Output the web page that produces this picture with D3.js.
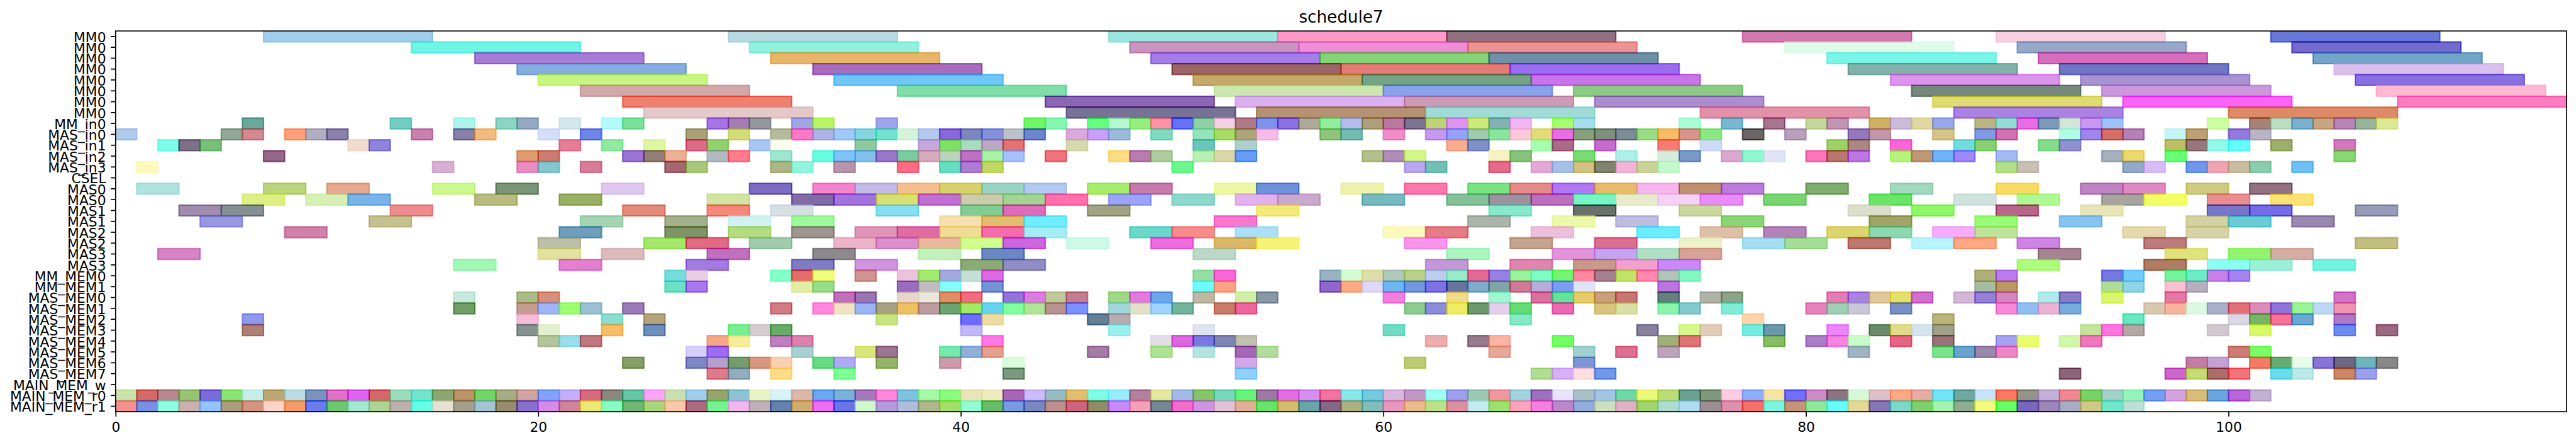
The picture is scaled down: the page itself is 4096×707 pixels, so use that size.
<!DOCTYPE html>
<html><head><meta charset="utf-8">
<script src="https://cdn.jsdelivr.net/npm/d3@7"></script>
<style>html,body{margin:0;padding:0;background:#fff}svg{display:block}</style>
</head><body><svg id="c"></svg>
<script>
const title = "schedule7";
const rowLabels = ["MM0","MM0","MM0","MM0","MM0","MM0","MM0","MM0","MM_in0","MAS_in0","MAS_in1","MAS_in2","MAS_in3","CSEL","MAS0","MAS0","MAS1","MAS1","MAS2","MAS2","MAS3","MAS3","MM_MEM0","MM_MEM1","MAS_MEM0","MAS_MEM1","MAS_MEM2","MAS_MEM3","MAS_MEM4","MAS_MEM5","MAS_MEM6","MAS_MEM7","MAIN_MEM_w","MAIN_MEM_r0","MAIN_MEM_r1"];
const rowDurations = [8,8,8,8,8,8,8,8,1,1,1,1,1,1,2,2,2,2,2,2,2,2,1,1,1,1,1,1,1,1,1,1,1,1,1];
const xTicks = [0,20,40,60,80,100];
const xMax = 116;
// each bar: [start time, colour as it appears on white]
const mmBars = [
[[7,"#9FCFEB"],[29,"#B8D9DF"],[47,"#9CE6E0"],[55,"#FF99C8"],[63,"#917080"],[77,"#D57AB0"],[89,"#F6CFE0"],[102,"#6878D8"]],
[[14,"#72F5E5"],[30,"#92F0DF"],[48,"#C995BF"],[56,"#EE8FD6"],[64,"#EC9494"],[79,"#E0FBEA"],[90,"#97A8C8"],[103,"#746BCB"]],
[[17,"#A67CD6"],[31,"#E9B56A"],[49,"#A57DE8"],[57,"#85D377"],[65,"#7090A8"],[81,"#7AF5E8"],[91,"#D46EBD"],[104,"#72A5C8"]],
[[19,"#85ADE0"],[33,"#A76CBD"],[50,"#9C6068"],[58,"#E37A76"],[66,"#9B6EF0"],[82,"#84B2AA"],[92,"#7176C3"],[105,"#DBC0EE"]],
[[20,"#C9F583"],[34,"#70C7F7"],[51,"#C4A96C"],[59,"#74A484"],[67,"#C975E8"],[84,"#DD94EC"],[93,"#A893D2"],[106,"#8872E2"]],
[[22,"#D3A8A8"],[37,"#80DEA8"],[52,"#CDE7B0"],[60,"#88A2EB"],[69,"#8CCB86"],[85,"#758A7C"],[94,"#CB98DC"],[107,"#FFB9D2"]],
[[24,"#EE8070"],[44,"#8B65B3"],[53,"#DBB0EF"],[61,"#CC9BB5"],[70,"#AC8DCD"],[86,"#DEDB74"],[95,"#FB64F9"],[108,"#FD7EC0"]],
[[25,"#E4C8CA"],[45,"#787396"],[54,"#B59272"],[62,"#9FDCD8"],[75,"#E391A8"],[87,"#AB82E3"],[100,"#DE8A66"]]
];
const inBars = [
[[6,"#6AA89B"],[13,"#75CCC4"],[16,"#AEF5EC"],[18,"#8CD4C4"],[19,"#94A9C2"],[21,"#D3E6EC"],[23,"#B5FBFC"],[24,"#7CE19A"],[28,"#A475E3"],[29,"#A47DB5"],[30,"#94989E"],[32,"#9EA6E3"],[33,"#B9F560"],[36,"#A1A6EB"],[43,"#72F568"],[44,"#85F5B0"],[46,"#66FF80"],[47,"#B5F8CF"],[48,"#96EE80"],[49,"#FF92A5"],[50,"#6572FC"],[51,"#8FD0A5"],[52,"#F3D0E6"],[53,"#B07A88"],[54,"#7F93E8"],[55,"#8C70E0"],[56,"#AEA99A"],[57,"#90EE9E"],[58,"#B4BCEE"],[59,"#AF9E7C"],[60,"#B67A9C"],[61,"#7E7390"],[62,"#BED278"],[63,"#DF94EE"],[64,"#CEEA7C"],[65,"#84B2B4"],[66,"#F3B5F3"],[68,"#A5FF70"],[69,"#A8DEEE"],[74,"#A8FFD6"],[76,"#7AB8CF"],[78,"#A6768F"],[80,"#C4D79C"],[81,"#C194B4"],[83,"#D0B066"],[84,"#CCBCD8"],[85,"#E0D8A4"],[86,"#98A8E8"],[88,"#BCB684"],[89,"#95DCD4"],[90,"#E66EE0"],[91,"#7E9AB8"],[92,"#D3E6D8"],[93,"#CA98F0"],[94,"#9DC4F8"],[99,"#CBFFA0"],[101,"#A88274"],[102,"#BCDCC4"],[103,"#7AB0CC"],[104,"#C8A684"],[105,"#B686B6"],[106,"#98B49A"],[107,"#DDE894"]],
[[0,"#AFCAEA"],[5,"#90A898"],[6,"#D48890"],[8,"#FFA07A"],[9,"#B0AEC0"],[10,"#8A80AC"],[14,"#C980AE"],[16,"#8880AB"],[17,"#F3BB7E"],[20,"#D2DFF7"],[22,"#6F85EA"],[27,"#AAA27A"],[29,"#D3DD78"],[31,"#B2BB9C"],[32,"#FF78C8"],[33,"#AEB5E6"],[34,"#A0C8F8"],[35,"#84D6E0"],[36,"#72E3CC"],[37,"#D4F3D8"],[38,"#B4C8F0"],[39,"#8868DC"],[40,"#7C86C0"],[41,"#8590DC"],[42,"#BCC2CA"],[43,"#6C85CC"],[45,"#DBA9DC"],[46,"#C8A0FC"],[47,"#9CBBDC"],[49,"#80DCC0"],[51,"#96E4BC"],[52,"#A8DA66"],[53,"#AAA678"],[54,"#F5BCE8"],[57,"#90C47C"],[58,"#74BCB0"],[60,"#F08CC8"],[62,"#C498F0"],[63,"#94A2FC"],[64,"#9FC8AC"],[65,"#8CE59C"],[66,"#FBC9D9"],[67,"#E2DC78"],[68,"#E86EE8"],[69,"#88A07C"],[70,"#7F8F7C"],[71,"#7C8C98"],[72,"#98DC84"],[73,"#F6BC66"],[74,"#D9948C"],[75,"#8CE884"],[77,"#6A6666"],[79,"#B9A0BC"],[82,"#9578BC"],[83,"#C498A8"],[86,"#D6C48A"],[88,"#7F9AE2"],[89,"#D272B2"],[92,"#AFFDE4"],[93,"#A086E8"],[94,"#D46E66"],[95,"#B580B8"],[97,"#C4F6FA"],[98,"#BDA074"],[100,"#9478DC"],[101,"#B8B4C4"]],
[[2,"#7EFDEA"],[3,"#7E7086"],[4,"#7ABE7C"],[11,"#F0DCCF"],[12,"#8F84DC"],[21,"#E67E98"],[23,"#90EAA0"],[25,"#DEF7A4"],[27,"#DC6C88"],[28,"#92D070"],[30,"#A8C6F4"],[31,"#FAFDEF"],[35,"#90C8A0"],[38,"#C6A8DC"],[39,"#80E064"],[40,"#A8DCBC"],[41,"#BCA8C4"],[42,"#DF7376"],[45,"#D6D8AE"],[51,"#6AC6BC"],[53,"#B0CFCA"],[63,"#F7AC90"],[64,"#8090C6"],[67,"#A6FDB0"],[68,"#A96A8C"],[70,"#C46CCA"],[73,"#F77C76"],[75,"#CDDAF4"],[81,"#9DD268"],[82,"#A98880"],[84,"#F95FD8"],[87,"#72DCDC"],[88,"#88D070"],[91,"#84DC8C"],[92,"#9090D0"],[97,"#BEBE66"],[98,"#967880"],[99,"#92F8E8"],[100,"#66FCFF"],[102,"#9EAE6C"],[105,"#D278BC"]],
[[7,"#95688A"],[19,"#E09C70"],[20,"#CC7C70"],[24,"#9C74D4"],[25,"#928078"],[26,"#EEB094"],[28,"#B0BAC0"],[29,"#FF7C8C"],[31,"#9DE6D0"],[33,"#68FCDF"],[34,"#7EC4F8"],[35,"#84C0EC"],[36,"#9C78C8"],[37,"#78CCA0"],[38,"#D4ACBC"],[39,"#BCD4BC"],[40,"#C070C4"],[41,"#AAF2A8"],[42,"#A8C0FC"],[44,"#F0747C"],[47,"#FEDC84"],[48,"#B87CB0"],[49,"#AECC9E"],[51,"#B8F0B4"],[52,"#D9D6A8"],[53,"#689CF8"],[59,"#B4C08C"],[60,"#B08EB8"],[61,"#D4F888"],[65,"#F5F3C4"],[66,"#86C47C"],[69,"#78DC72"],[71,"#ACF0E8"],[73,"#D8ECDC"],[74,"#7A98C8"],[76,"#DCA8D0"],[77,"#90F8D0"],[78,"#E0E6F6"],[80,"#F877BA"],[81,"#B87870"],[82,"#BC78E2"],[84,"#B4F47C"],[85,"#C09878"],[86,"#72B4FC"],[87,"#9E88FC"],[89,"#A4BCF4"],[94,"#A6B0BC"],[95,"#ECD86C"],[97,"#68FF76"],[105,"#88D674"]],
[[1,"#FFFABC"],[15,"#D8B0D4"],[19,"#EA8CC4"],[20,"#86C6CE"],[22,"#D67E98"],[26,"#A66870"],[27,"#A8C87C"],[31,"#AEB686"],[32,"#92F4DC"],[34,"#B696AC"],[37,"#FF6C84"],[39,"#68DEC0"],[40,"#AE7CD4"],[41,"#C0D864"],[50,"#6CF88E"],[61,"#B8A6F0"],[62,"#74C0B4"],[65,"#E66A8C"],[67,"#E4A8D4"],[68,"#A8C0E8"],[69,"#D2C282"],[70,"#80846E"],[71,"#F3B4D8"],[72,"#C8D498"],[73,"#C4F8CC"],[89,"#B2E088"],[90,"#C8C0B4"],[95,"#94A8C8"],[96,"#D8BCF6"],[98,"#7098EC"],[99,"#F0A4B0"],[100,"#CABC9E"],[101,"#8CCCB0"],[103,"#70C0F4"]]
];
const cselBars = [[]];
const masBars = [
[[1,"#B0E3E0"],[7,"#BAD57C"],[10,"#E6AA90"],[15,"#CDF890"],[18,"#7A9578"],[23,"#DFC8EE"],[30,"#7C6CC4"],[33,"#F484CC"],[35,"#C4BAE6"],[37,"#F5C090"],[39,"#D8D26C"],[41,"#9CD4C4"],[43,"#B4CAF0"],[46,"#A8EE6C"],[48,"#C87CAC"],[52,"#ECF8A4"],[54,"#7090DA"],[58,"#EEF2AC"],[61,"#FF78AC"],[64,"#78E484"],[66,"#E48C8C"],[68,"#B078F4"],[70,"#E6BC6C"],[72,"#F4B6EC"],[74,"#BE9070"],[76,"#BC7CDC"],[80,"#80AE70"],[84,"#A0D8C0"],[89,"#F9DC68"],[93,"#BF84C2"],[95,"#E08AC2"],[98,"#CFCB84"],[101,"#937282"]],
[[6,"#DDF088"],[9,"#D6F0B8"],[11,"#78B4E8"],[17,"#B8BC80"],[21,"#9AB066"],[28,"#D2E4A4"],[32,"#826CA8"],[34,"#A274DC"],[36,"#D8E074"],[38,"#C070D0"],[40,"#CCCCAC"],[42,"#A4D494"],[44,"#FF70AC"],[47,"#9CA4FA"],[50,"#90D8CC"],[53,"#E2B2EE"],[55,"#CAAACC"],[59,"#78B8C0"],[63,"#84C098"],[65,"#9C92A0"],[67,"#BC70BC"],[69,"#78F5C4"],[71,"#E6ECCC"],[73,"#F4D2F4"],[75,"#E78CF8"],[78,"#7AD474"],[83,"#6CE468"],[87,"#D0E2DE"],[90,"#B0F896"],[94,"#A8A4A0"],[96,"#F2FE68"],[99,"#E88E90"],[102,"#FCE274"]],
[[3,"#A08CAC"],[5,"#869094"],[13,"#EE8C90"],[24,"#E48C7C"],[28,"#F58878"],[31,"#D6E0E4"],[36,"#86DEF0"],[40,"#84CC96"],[42,"#DD6CBC"],[46,"#A0A484"],[54,"#F4EA7C"],[65,"#88E8CC"],[69,"#6A706A"],[74,"#CCD8A0"],[82,"#DCDFCC"],[85,"#90F868"],[89,"#B86688"],[93,"#E8E6B8"],[99,"#7876C8"],[101,"#746CE8"],[106,"#989BB8"]],
[[4,"#9898E0"],[12,"#C4C090"],[22,"#A4D4B4"],[26,"#A4B08C"],[29,"#D2F2F2"],[32,"#A0F89C"],[39,"#F6E0B0"],[41,"#E2BC70"],[43,"#70ECFC"],[52,"#F878CE"],[64,"#ACB4AC"],[68,"#ECF8AC"],[71,"#BFBCE0"],[76,"#8CD478"],[83,"#A0A460"],[88,"#98FC78"],[92,"#88C4F0"],[98,"#D4D2A4"],[100,"#6CCCD4"],[103,"#9888B0"]],
[[8,"#D082A8"],[21,"#6E9EBC"],[26,"#7E9464"],[29,"#B4DC80"],[32,"#9E9490"],[35,"#E094B8"],[37,"#E06CA4"],[39,"#F0DC94"],[41,"#F46CAC"],[43,"#A4EEF4"],[48,"#6CD8CC"],[50,"#F88C8C"],[53,"#ACE0F8"],[60,"#FBF9BC"],[62,"#E67C84"],[67,"#ECC0DC"],[72,"#6CECFF"],[75,"#DEC0A8"],[78,"#B484B8"],[81,"#DCD46C"],[83,"#8CD8B0"],[86,"#F6ACFC"],[88,"#BEE49C"],[95,"#E4D8AC"],[98,"#D8D2A8"]],
[[20,"#BCC0A8"],[25,"#A4E86C"],[27,"#E06C84"],[30,"#A0CCAC"],[34,"#ECB4C8"],[36,"#DA90CC"],[38,"#ECB8A0"],[40,"#D0FE90"],[42,"#CE64E0"],[45,"#CCFAE6"],[49,"#EE6EE0"],[52,"#DCB868"],[54,"#F6F27C"],[61,"#F896EE"],[66,"#C4A48C"],[70,"#DC7090"],[74,"#EEF2CC"],[77,"#A4DEF0"],[79,"#A4DE98"],[82,"#BE7870"],[85,"#B8F4FC"],[87,"#FFA884"],[90,"#CE84E4"],[96,"#BC7C7C"],[106,"#C2BE80"]],
[[2,"#D684C4"],[20,"#E4E0A0"],[23,"#DDBABC"],[28,"#C070BC"],[33,"#8C8A8C"],[38,"#C4F0BC"],[41,"#6C88C4"],[51,"#BCD8C8"],[63,"#ACF4C0"],[68,"#E294DA"],[70,"#C4A4EE"],[72,"#B0E0C4"],[74,"#D8A298"],[91,"#A48490"],[97,"#E0E27E"],[100,"#94F470"],[102,"#D4AEA4"]],
[[16,"#A0F8B4"],[21,"#E480D0"],[27,"#A27CE0"],[32,"#807CC4"],[35,"#D094E0"],[40,"#8CAA74"],[42,"#908CC4"],[62,"#C498D8"],[66,"#E084B0"],[69,"#C89A8C"],[71,"#F2A0D0"],[73,"#CC88F8"],[90,"#AEFC7C"],[96,"#B07C64"],[99,"#8CFFF0"],[101,"#9CF0D8"],[104,"#74F4E0"]]
];
const mmMemBars = [
[[26,"#76DCDC"],[27,"#E8D0E4"],[31,"#86FFC8"],[32,"#E46C6C"],[33,"#F2FC7C"],[35,"#D09490"],[37,"#EBC4DC"],[38,"#A4EA70"],[39,"#A4A8DE"],[40,"#C6E0D8"],[41,"#DC6CE0"],[51,"#96DEA4"],[52,"#F968D8"],[57,"#98B4C4"],[58,"#D4FCD0"],[59,"#E0DEA8"],[60,"#B0C8B8"],[61,"#B8D088"],[62,"#BCCEEC"],[63,"#98ECC8"],[64,"#E26A94"],[65,"#9880E4"],[66,"#98F49C"],[67,"#7EFCC4"],[68,"#74F470"],[69,"#FF88A0"],[70,"#A68090"],[71,"#C0E468"],[72,"#FF88AC"],[73,"#B0C4B8"],[74,"#82F8C0"],[88,"#B0B078"],[89,"#BC7CEC"],[94,"#7478E0"],[95,"#74CCFC"],[97,"#74F49C"],[98,"#6CECC4"],[99,"#C880E8"],[100,"#A884F0"]],
[[26,"#6CE0C4"],[27,"#A878EC"],[32,"#E2EEA4"],[33,"#98DC8C"],[37,"#9C6CBC"],[38,"#C0BCC0"],[39,"#88FCF8"],[41,"#7494D4"],[51,"#6CFCFF"],[52,"#FCA484"],[57,"#9068CC"],[58,"#FCAC84"],[59,"#DED8F8"],[60,"#6CB8F0"],[61,"#7498E0"],[62,"#7C74E4"],[63,"#66759F"],[64,"#80ACCC"],[65,"#80A4A8"],[66,"#D07A98"],[67,"#B8ACD8"],[68,"#7C9CF4"],[69,"#E0E4F4"],[73,"#BC74E0"],[88,"#A8BCA0"],[89,"#BC9868"],[94,"#B0DE98"],[95,"#90D4E8"],[97,"#FBC0D0"],[98,"#B4B0C0"]]
];
const masMemBars = [
[[16,"#C8E8DC"],[19,"#ACBC88"],[20,"#D6907C"],[34,"#C070B8"],[35,"#9C74B0"],[37,"#E6D6CC"],[38,"#EAE8DC"],[39,"#E28E60"],[40,"#F06C80"],[42,"#9474DC"],[43,"#DC7CE0"],[44,"#C0C89C"],[45,"#C47C90"],[47,"#A0D888"],[48,"#E07CDC"],[49,"#70A4E8"],[51,"#BCB8A4"],[53,"#D0F0A8"],[54,"#8898A4"],[60,"#F080DC"],[63,"#F0DC88"],[65,"#A0F8D0"],[67,"#D870A0"],[68,"#68E0A0"],[69,"#E2CC6C"],[70,"#C8A080"],[71,"#C87874"],[73,"#648080"],[75,"#B0B4A8"],[76,"#8CA488"],[81,"#E47CB4"],[82,"#A884E0"],[83,"#DEC89C"],[84,"#E4E070"],[85,"#D070CC"],[87,"#D2B8D4"],[88,"#9480D4"],[89,"#D288BC"],[91,"#B0EAEA"],[92,"#8A7CC4"],[94,"#D8F670"],[97,"#E478A4"],[105,"#D074C8"]],
[[16,"#70A068"],[19,"#C49C90"],[20,"#A0B4F8"],[21,"#9CFF70"],[22,"#9CC0D4"],[24,"#9C7CB8"],[31,"#D07C84"],[33,"#FF88DC"],[34,"#F0E4C4"],[35,"#9CB4F4"],[36,"#A8A284"],[37,"#F0C060"],[38,"#BC9CA0"],[39,"#6CA474"],[40,"#A0EC58"],[41,"#68D4F0"],[42,"#80FF9C"],[43,"#B0E498"],[44,"#B89490"],[45,"#7C90FF"],[47,"#A0D8DC"],[48,"#E2E0C8"],[49,"#A0D4FC"],[50,"#74B49C"],[52,"#C87C68"],[53,"#EE649C"],[61,"#8CCC90"],[62,"#8C8CDC"],[63,"#ECEC58"],[64,"#6C986C"],[65,"#E4D0EC"],[66,"#60DC74"],[68,"#EC68B0"],[70,"#D8C47C"],[71,"#D8E0A4"],[73,"#88F4AC"],[74,"#84C8D0"],[76,"#80ECD8"],[80,"#E684BC"],[81,"#A0D0B4"],[82,"#C8C8D8"],[84,"#7890C4"],[89,"#F688D8"],[90,"#90BEF4"],[91,"#ECB4D4"],[92,"#78ACDC"],[96,"#D8C8B0"],[97,"#F8B4A0"],[98,"#DCF8E0"],[99,"#A8B0CC"],[100,"#E27078"],[101,"#DC8CB8"],[102,"#9074D8"],[103,"#98F494"],[104,"#BCD8F4"],[105,"#EC94B0"]],
[[6,"#8F9AEE"],[19,"#F5BED8"],[23,"#8CDCD0"],[25,"#B4A47C"],[36,"#C8E484"],[40,"#6E6CFC"],[41,"#EEDCA4"],[46,"#668099"],[47,"#B8ACB0"],[66,"#88E8C4"],[77,"#FFD4AC"],[86,"#B8B47C"],[95,"#68E8C0"],[100,"#DAD8E4"],[101,"#78B468"],[102,"#F47498"],[103,"#6CA8D4"],[105,"#B078C8"]],
[[6,"#B08074"],[19,"#849490"],[20,"#E2F0D0"],[23,"#F6BC60"],[25,"#6E8EBC"],[29,"#78F090"],[30,"#D4CCD0"],[31,"#68AC68"],[40,"#C0B8F8"],[47,"#9AF0EC"],[51,"#E0E4F0"],[60,"#70DCC4"],[72,"#88809C"],[74,"#D4F88C"],[75,"#E0CCB8"],[77,"#74ECE0"],[78,"#6C98AC"],[81,"#EC84FC"],[83,"#6C8C6C"],[84,"#E0DC88"],[85,"#D4E4EC"],[86,"#A0A088"],[93,"#C4E49C"],[94,"#FF74E0"],[95,"#B4A8A4"],[99,"#D2C8D0"],[101,"#D8FA68"],[105,"#6C8CEC"],[107,"#9C6880"]],
[[20,"#B4C49C"],[21,"#98DEEC"],[22,"#C0787C"],[28,"#F4A888"],[29,"#F8EC9C"],[31,"#C080C0"],[32,"#DC80AC"],[41,"#FF78E8"],[49,"#E2DEE6"],[50,"#DC68E0"],[51,"#7C78E0"],[52,"#8086B4"],[53,"#C0C0B0"],[62,"#ECAEAC"],[64,"#967C8C"],[65,"#FAB4A4"],[68,"#74FC60"],[73,"#A0B078"],[74,"#E07478"],[78,"#88BC64"],[80,"#AC80C8"],[81,"#F484E0"],[82,"#C8FCC8"],[84,"#E46484"],[86,"#987478"],[89,"#A8A0F0"],[90,"#E8FE70"],[92,"#D0F8A8"],[93,"#F078BC"]],
[[27,"#D8D0FC"],[28,"#9C6CF4"],[32,"#A8D0D0"],[35,"#D8E67C"],[36,"#9C7494"],[39,"#78E8AC"],[40,"#90B0D8"],[41,"#E4A08C"],[46,"#A47CA4"],[49,"#ACE494"],[51,"#B4E4E0"],[53,"#A468B4"],[54,"#B0DC9C"],[65,"#E8A898"],[69,"#A0D0D0"],[71,"#DC7090"],[73,"#BCA4BC"],[82,"#A0B4C4"],[86,"#7CE490"],[87,"#68A4CC"],[88,"#9888AC"],[89,"#EC88C8"],[100,"#CC7C74"],[101,"#7CFC68"]],
[[24,"#84A064"],[27,"#8088C4"],[28,"#B4A0CC"],[29,"#749C6C"],[30,"#D89880"],[31,"#FAD0B0"],[33,"#64DC84"],[34,"#B0A8F8"],[36,"#94B468"],[39,"#CC9CAC"],[42,"#DAFCDC"],[53,"#D4A8E8"],[61,"#BECC74"],[69,"#7C94D8"],[98,"#C47CA4"],[99,"#C4A0D4"],[101,"#F47C5C"],[102,"#64AC70"],[103,"#E8FCE8"],[104,"#8874D8"],[105,"#706880"],[106,"#70B4BC"],[107,"#888888"]],
[[28,"#DC7C8C"],[29,"#94ACBC"],[31,"#FCDC88"],[34,"#80FF94"],[42,"#7C9880"],[53,"#90D0FC"],[67,"#B0DC94"],[68,"#D8B0F4"],[69,"#FEDEDE"],[70,"#7498E8"],[92,"#8C6678"],[97,"#CC64C8"],[98,"#C4DC78"],[99,"#AA6E6C"],[100,"#F07478"],[102,"#6CDCEC"],[103,"#BCE8E8"],[105,"#C88868"],[106,"#9CA0EC"]]
];
const mainWriteBars = [[]];
// main memory read ports run back to back from time 0: colours in time order
const mainR0Colors = ["#C8E4A8","#D46C64","#B88890","#98C474","#7C6CD8","#8CE474","#C4F0E8","#BCA874","#BCDCE4","#7C94BC","#E070C8","#DC64F0","#D4686C","#9CDEBC","#74E4CC","#8CA870","#BC9468","#74D46C","#A8AC84","#D0A4A0","#80A4FC","#C4B0F8","#D46C80","#8C8880","#68C4A8","#FFA4F8","#C8E0B4","#A0D0EC","#98A46C","#8CC4D4","#E8F4C8","#D8F4F8","#DCB8AC","#6CA8EC","#7CB0D8","#A878BC","#FF88DC","#7CC4DC","#A8F8A8","#8CFC80","#ECE4B8","#F0ECC0","#A860B4","#CCBCFC","#98BCC4","#E0C070","#80FCE8","#98ECFC","#B0809C","#E4E8A0","#A0BCE8","#88C46C","#78D8BC","#68F47C","#A078A8","#E070E0","#D890F0","#F474A0","#8CE8E8","#78C8E0","#D8B8DC","#C098C8","#A0FCF4","#9CA0EC","#9CC8B4","#F098A0","#A0D4E0","#9C70BC","#E8E4FC","#ACC0C8","#A4C4E4","#70D8A4","#ECF87C","#BCDC78","#6CA090","#80987C","#FCCCE4","#8CB0FC","#F8E4A4","#7070FC","#CC8CC8","#8C7480","#D4F8D8","#E0C0C8","#FFA884","#E8ACA4","#74E4F8","#70A8A0","#C8E4FC","#FF7864","#949488","#C4B0D8","#F08890","#78D468","#A4D0C8","#94F4BC","#78A0F0","#D4A4DC","#D8BC7C","#6CA4DC","#B864D8","#C4B0D0"];
const mainR1Colors = ["#F49090","#7890E4","#90FCE0","#CCB0B0","#94C4FC","#AC9C80","#D49480","#FCD4CC","#F49C64","#6C7CF0","#6CC870","#A4E8D0","#ACD494","#BCB0AC","#60FCE8","#E8E0D4","#A4A090","#A4C4D4","#988C70","#8870D0","#D48CE8","#D08498","#ECE874","#88FCC0","#74B474","#A8D47C","#FCC8A8","#AC6C80","#74F490","#F0B8EC","#C0B0BC","#6880B0","#D0AC70","#EC6CF4","#6C74EC","#D0F8CC","#B49CDC","#B0BCDC","#ACB88C","#A4E068","#94FCD4","#68BC68","#789CE4","#7888C0","#BC908C","#CC6480","#908C68","#C888FC","#F4A0B8","#748894","#F46CCC","#D094E4","#E4C0D4","#E0B098","#68E468","#D4BC6C","#68A4A8","#846888","#ACB084","#84BCBC","#E898BC","#E8BC8C","#BCE08C","#DC90A0","#C4ECF0","#9CE070","#FCA4BC","#F480E0","#BC88CC","#94ACDC","#CCE0C0","#E0B0C4","#A0D470","#ACDCD0","#B0DCF0","#9C9094","#DC90AC","#F47068","#7CF4E0","#C89478","#90E89C","#68FCFC","#E4D898","#8478B4","#7CD8C8","#80D070","#A4F4B0","#90AC90","#F4FA7C","#68FC60","#7868BC","#9C88B8","#A8ACC4","#D0C888","#70E8CC","#BCE0D8"];

const W = 4096, H = 707, k = 4096/5214, alpha = 0.6;
const m = {left:234*k, right:5195*k, top:62.7*k, bottom:832.7*k};
const rows = [...mmBars, ...inBars, ...cselBars, ...masBars, ...mmMemBars, ...masMemBars, ...mainWriteBars,
  mainR0Colors.map((c,i)=>[i,c]), mainR1Colors.map((c,i)=>[i,c])];
const bars = rows.flatMap((r,i)=>r.map(([s,c])=>({row:i,start:s,dur:rowDurations[i],color:c})));
// listed colours are as seen over white: recover the ink that gives them at this opacity
const ink = hex => { const c=d3.rgb(hex); const f=v=>Math.max(0,Math.min(255,Math.round((v-(1-alpha)*255)/alpha))); return d3.rgb(f(c.r),f(c.g),f(c.b)).formatHex(); };

const x = d3.scaleLinear().domain([0,xMax]).range([m.left,m.right]);
const y = d3.scaleBand().domain(d3.range(rowLabels.length)).range([m.top,m.bottom]).paddingInner(0).paddingOuter(0);
const svg = d3.select("#c").attr("width",W).attr("height",H).attr("viewBox",`0 0 ${W} ${H}`).style("font-family","'DejaVu Sans'");
svg.append("defs").append("clipPath").attr("id","ax").append("rect")
  .attr("x",m.left).attr("y",m.top).attr("width",m.right-m.left).attr("height",m.bottom-m.top);
svg.append("g").attr("clip-path","url(#ax)").selectAll("rect").data(bars).join("rect")
  .attr("x",d=>x(d.start)).attr("y",d=>y(d.row))
  .attr("width",d=>x(d.start+d.dur)-x(d.start)).attr("height",y.bandwidth())
  .attr("fill",d=>ink(d.color)).attr("fill-opacity",alpha)
  .attr("stroke",d=>ink(d.color)).attr("stroke-opacity",alpha).attr("stroke-width",2.78*k);
const fs = 27.78*k, tl = 9.72*k, tw = 2.22*k;
const ax = svg.append("g").attr("transform",`translate(0,${m.bottom})`)
  .call(d3.axisBottom(x).tickValues(xTicks).tickFormat(d3.format("d")).tickSize(tl).tickPadding(11*k));
const ay = svg.append("g").attr("transform",`translate(${m.left},0)`)
  .call(d3.axisLeft(y).tickFormat(i=>rowLabels[i]).tickSize(tl).tickPadding(tl));
[ax,ay].forEach(g=>{ g.attr("font-family","'DejaVu Sans'").attr("font-size",fs);
  g.select(".domain").remove(); g.selectAll("line").attr("stroke","#000").attr("stroke-width",tw); g.selectAll("text").attr("fill","#000"); });
ay.selectAll("text").attr("dy","0.4em");
svg.append("rect").attr("x",m.left).attr("y",m.top).attr("width",m.right-m.left).attr("height",m.bottom-m.top)
  .attr("fill","none").attr("stroke","#000").attr("stroke-width",tw);
svg.append("text").attr("x",(m.left+m.right)/2).attr("y",45.5*k).attr("text-anchor","middle")
  .attr("font-size",33.33*k).attr("fill","#000").text(title);
</script></body></html>
